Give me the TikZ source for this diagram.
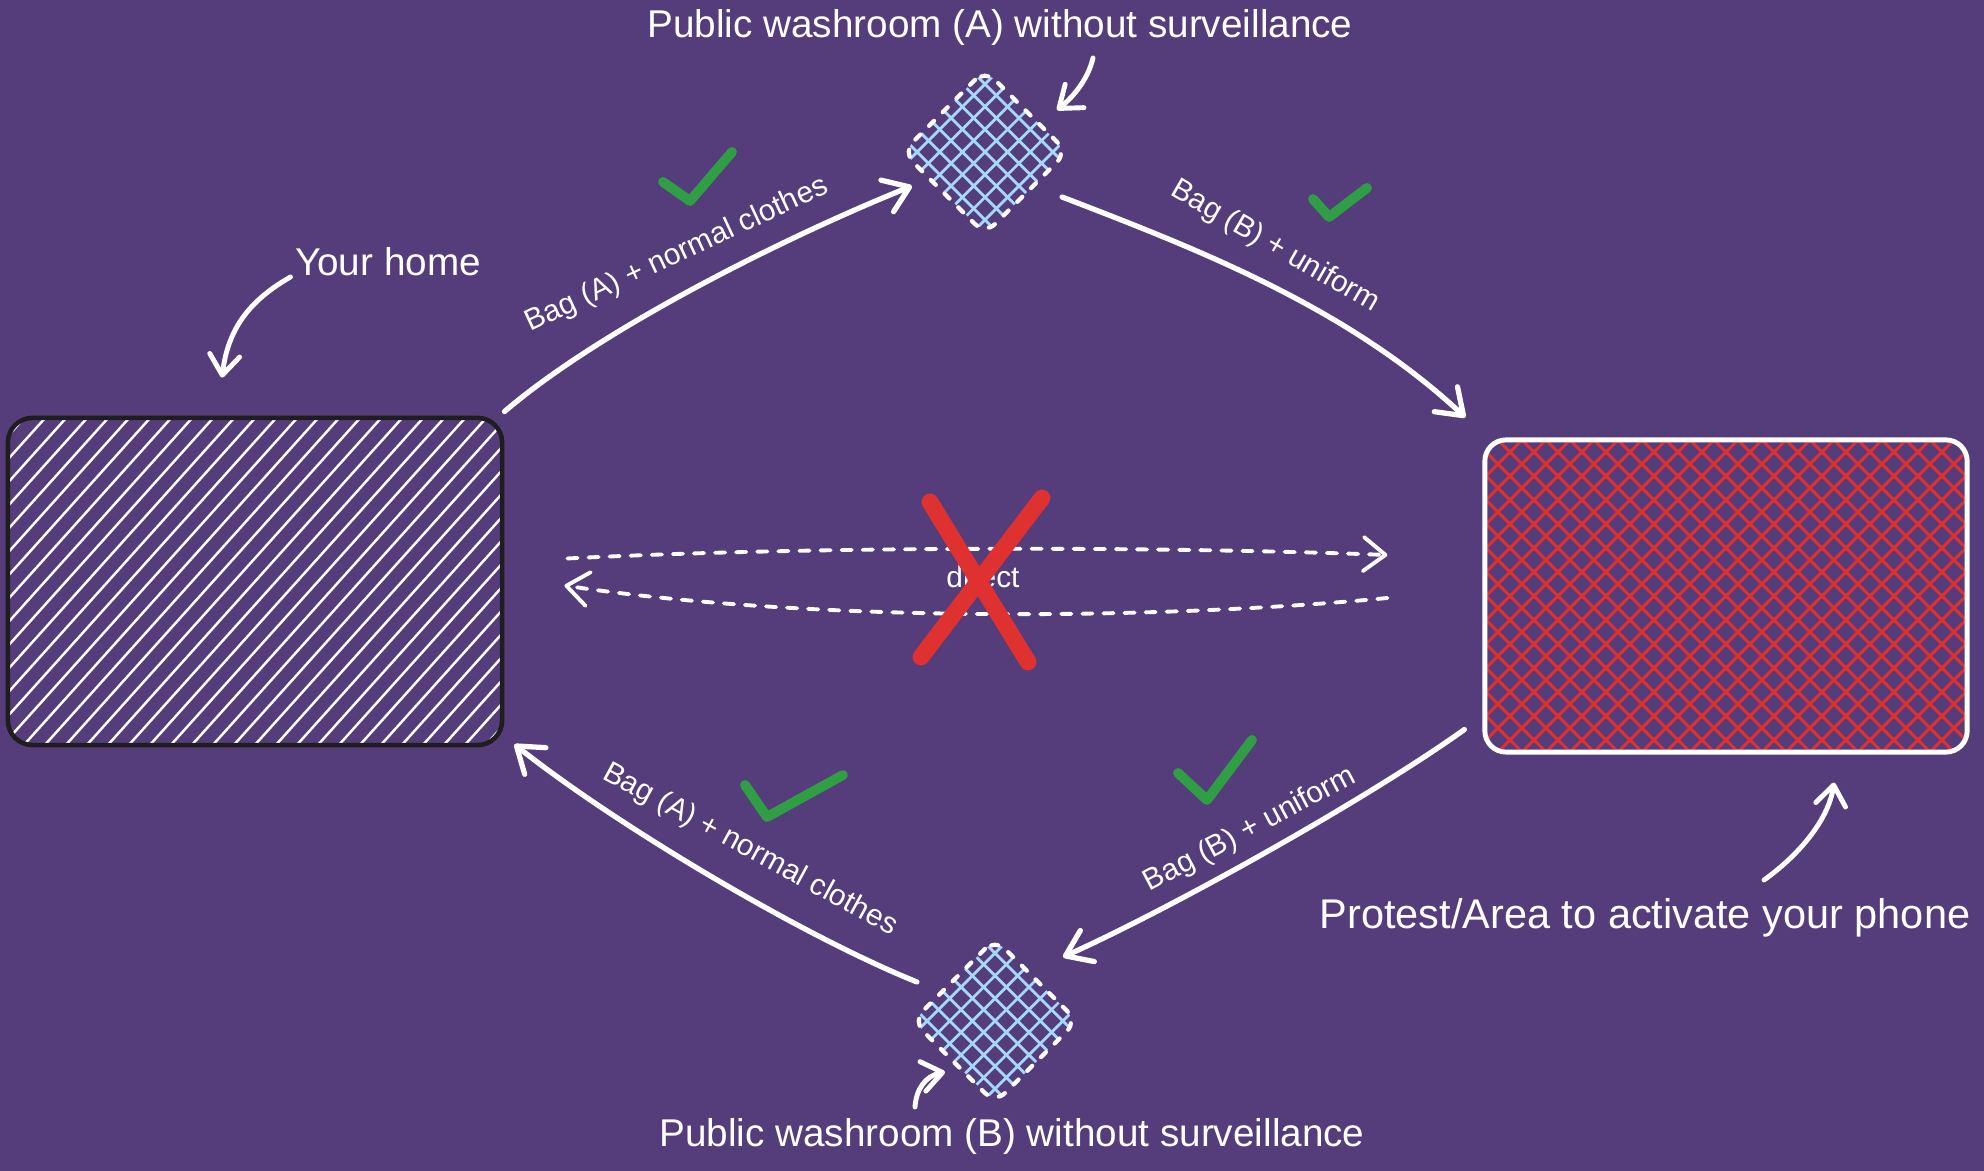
\documentclass[tikz,border=0pt]{standalone}
\usepackage{fontspec}
\setmainfont{Liberation Sans}
\usetikzlibrary{arrows.meta,calc}
\definecolor{Night}{HTML}{553C7B}
\definecolor{Chalk}{HTML}{FFFFFF}
\definecolor{Coal}{HTML}{1E1E1E}
\definecolor{Leaf}{HTML}{2F9E44}
\definecolor{Alarm}{HTML}{E03131}
\definecolor{Sky}{HTML}{A5D8FF}
\tikzset{
  homebox/.style={
    rounded corners=7pt, draw=Coal, line width=1.3pt, inner sep=0pt,
    minimum width=4.94cm, minimum height=3.27cm,
    path picture={
      \foreach \k in {-20,...,20}
        \draw[Chalk, line width=0.7pt]
          ($(path picture bounding box.center)+(\k*21-180,200)$) -- ++(360,-400);
    }
  },
  protestbox/.style={
    rounded corners=6pt, draw=Chalk, line width=1.4pt, inner sep=0pt,
    minimum width=4.82cm, minimum height=3.12cm,
    path picture={
      \foreach \k in {-18,...,18}
        \draw[Alarm, line width=0.85pt]
          ($(path picture bounding box.center)+(\k*24-200,-200)$) -- ++(400,400)
          ($(path picture bounding box.center)+(\k*24-200,200)$) -- ++(400,-400);
    }
  },
  washbox/.style={
    rotate=45, minimum size=1.16cm, inner sep=0pt, rounded corners=4pt,
    draw=Chalk, line width=1.2pt, line cap=round, dash pattern=on 2pt off 3.5pt
  },
  gridline/.style={draw=Sky, line width=0.8pt},
  caption/.style={text=Chalk, font=\fontsize{11pt}{13pt}\selectfont, inner sep=0pt},
  routelabel/.style={text=Chalk, font=\fontsize{8.5pt}{10pt}\selectfont, inner sep=0pt},
  route/.style={-{Straight Barb[length=2.4mm,width=3.4mm,round]}, line width=1.5pt,
    draw=Chalk, line cap=round},
  dashroute/.style={-{Straight Barb[length=2.2mm,width=3.4mm,round]}, line width=1.1pt,
    draw=Chalk, line cap=round, dash pattern=on 2.9pt off 3.1pt},
  pointer/.style={-{Straight Barb[length=2mm,width=3mm,round]}, line width=1.4pt,
    draw=Chalk, line cap=round},
  tick/.style={draw=Leaf, line width=2.8pt, line cap=round, line join=round},
  cross/.style={draw=Alarm, line width=4.8pt, line cap=round}
}
\begin{document}
\begin{tikzpicture}[x=0.01cm,y=-0.01cm]
  \useasboundingbox (0,0) rectangle (1984,1171);
  \fill[Night] (0,0) rectangle (1984,1171);

  \node[homebox] (home) at (255,581.5) {};
  \node[protestbox] (protest) at (1726,596) {};
  \coordinate (cA) at (985,152);
  \coordinate (cB) at (995,1021);
  \foreach \c in {cA,cB}{
    \begin{scope}[shift={(\c)},rotate=45]
      \clip[rounded corners=4pt] (-58,-58) rectangle (58,58);
      \foreach \k in {-48,-32,...,48}
        \draw[gridline] (\k,-60) -- (\k,60) (-60,\k) -- (60,\k);
    \end{scope}
  }
  \node[washbox] (washA) at (cA) {};
  \node[washbox] (washB) at (cB) {};

  \node[caption] (capA) at (1000,28) {Public washroom (A) without surveillance};
  \node[caption] (capB) at (1012,1136) {Public washroom (B) without surveillance};
  \node[caption] (capHome) at (388,262) {Your home};
  \node[caption,font=\fontsize{11.8pt}{14pt}\selectfont] (capProtest) at (1645,918) {Protest/Area to activate your phone};

  \draw[route] ($(home.north east)+(0,-4)$) .. controls ($(home.north east)+(98,-88)$) and ($(washA.center)+(-195,83)$) .. ($(washA.center)+(-73,34)$);
  \draw[route] ($(washA.center)+(77,45)$) .. controls ($(washA.center)+(215,98)$) and ($(protest.north west)+(-135,-130)$) .. ($(protest.north west)+(-17,-20)$);
  \draw[route] ($(protest.south west)+(-18,-25)$) .. controls ($(protest.south west)+(-116,45)$) and ($(washB.center)+(177,-113)$) .. ($(washB.center)+(68,-64)$);
  \draw[route] ($(washB.center)+(-78,-39)$) .. controls ($(washB.center)+(-195,-86)$) and ($(home.south east)+(108,75)$) .. ($(home.south east)+(10,-3)$);

  \node[routelabel,rotate=25] (bagA1) at (677,255) {Bag (A) + normal clothes};
  \node[routelabel,rotate=-30] (bagB1) at (1275,247) {Bag (B) + uniform};
  \node[routelabel,rotate=28] (bagB2) at (1250,830) {Bag (B) + uniform};
  \node[routelabel,rotate=-28.5] (bagA2) at (750,850) {Bag (A) + normal clothes};

  \draw[tick] (663,182) -- (690,201) -- (732,152);
  \draw[tick] (1313,199) -- (1329,217) -- (1367,188);
  \draw[tick] (1178,773) -- (1207,800) -- (1252,740);
  \draw[tick] (745,785) -- (767,817) -- (843,775);

  \draw[dashroute] ($(home.east)+(63,-23)$) .. controls ($(home.east)+(298,-35)$) and ($(protest.west)+(-335,-50)$) .. ($(protest.west)+(-95,-41)$);
  \draw[dashroute] ($(protest.west)+(-95,2)$) .. controls ($(protest.west)+(-335,25)$) and ($(home.east)+(298,40)$) .. ($(home.east)+(60,4)$);
  \node[routelabel] (direct) at (983,577) {direct};
  \draw[cross] (930,502) -- (1028,662) (1042,498) -- (921,657);

  \draw[pointer] ($(capHome.west)+(-4,15)$) .. controls ($(capHome.west)+(-44,38)$) and ($(home.north)+(-27,-88)$) .. ($(home.north)+(-33,-38)$);
  \draw[pointer] ($(capA.center)+(93,30)$) .. controls ($(capA.center)+(88,52)$) and ($(washA.center)+(87,-54)$) .. ($(washA.center)+(72,-42)$);
  \draw[pointer] ($(capB.center)+(-97,-29)$) .. controls ($(capB.center)+(-96,-46)$) and ($(washB.center)+(-70,55)$) .. ($(washB.center)+(-50,51)$);
  \draw[pointer] ($(capProtest.center)+(119,-38)$) .. controls ($(capProtest.center)+(150,-60)$) and ($(protest.south)+(102,68)$) .. ($(protest.south)+(108,28)$);
\end{tikzpicture}
\end{document}
